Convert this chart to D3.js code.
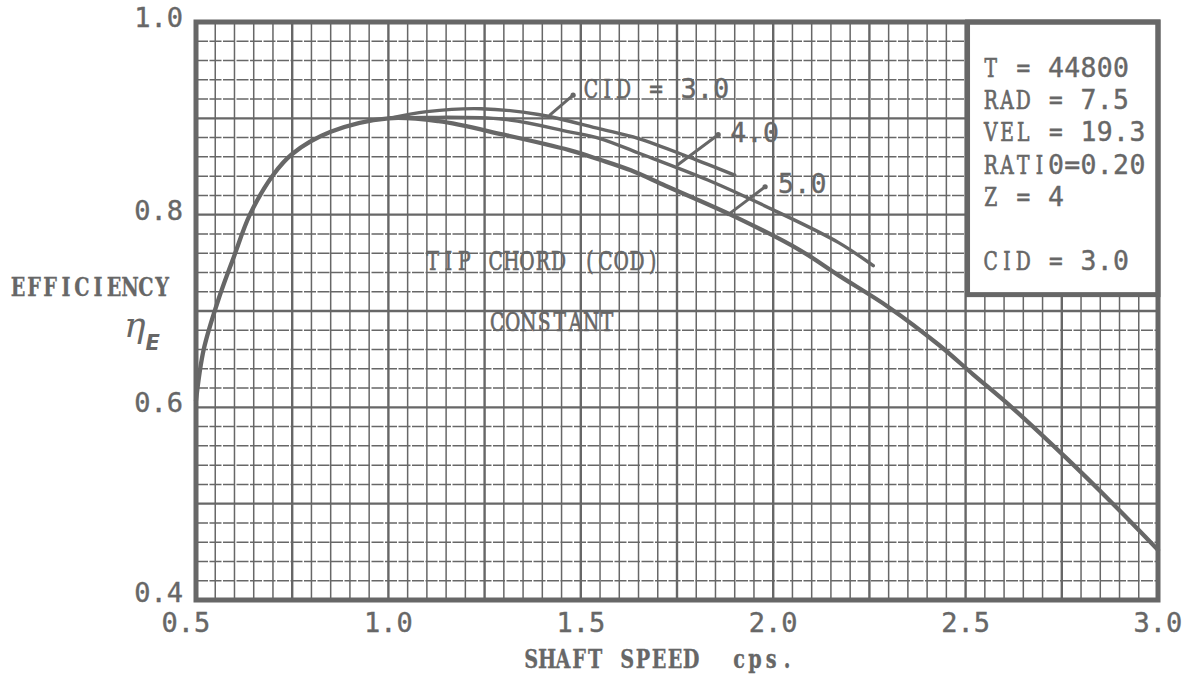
<!DOCTYPE html>
<html>
<head>
<meta charset="utf-8">
<script src="https://cdn.jsdelivr.net/npm/d3@7"></script>
<style>
  body { margin: 0; background: #fff; }
  svg { display: block; }
</style>
</head>
<body>
<script>
// efficiency vs shaft speed, tip chord (CID) constant
var ink = "#676767";

// curve data
var cid5Speed = [0.50, 0.52, 0.56, 0.60, 0.64, 0.70, 0.75, 0.85, 1.00, 1.13, 1.30, 1.47, 1.55, 1.63, 1.72, 1.90, 2.07, 2.17, 2.30, 2.43, 2.52, 2.62, 2.76, 2.88, 3.00];
var cid5Eff   = [0.607, 0.660, 0.714, 0.758, 0.800, 0.841, 0.863, 0.886, 0.900, 0.897, 0.883, 0.867, 0.857, 0.846, 0.830, 0.798, 0.763, 0.737, 0.704, 0.665, 0.634, 0.600, 0.548, 0.501, 0.452];

var cid4Speed = [1.00, 1.10, 1.30, 1.47, 1.55, 1.65, 1.83, 2.00, 2.17, 2.26];
var cid4Eff   = [0.900, 0.901, 0.899, 0.886, 0.879, 0.864, 0.836, 0.805, 0.771, 0.747];

var cid3Speed = [1.00, 1.10, 1.24, 1.39, 1.55, 1.65, 1.78, 1.90];
var cid3Eff   = [0.900, 0.907, 0.910, 0.904, 0.889, 0.879, 0.860, 0.841];

var xTicks = [0.5, 1.0, 1.5, 2.0, 2.5, 3.0];
var yTicks = [0.4, 0.6, 0.8, 1.0];

var curveKeys   = ["CID = ", "", ""];
var curveValues = ["3.0", "4.0", "5.0"];
var boxKeys   = ["T = ", "RAD = ", "VEL = ", "RATI", "Z = ", "", "CID = "];
var boxValues = ["44800", "7.5", "19.3", "0=0.20", "4", "", "3.0"];

// typewriter look: slab serif letters on a fixed pitch, gothic digits
var serif = "'DejaVu Serif', 'Liberation Serif', serif";
var gothic = "'DejaVu Sans Mono', monospace";

var svg = d3.select("body").append("svg")
    .attr("width", 1195)
    .attr("height", 676);

var x = d3.scaleLinear().domain([0.5, 3.0]).range([196, 1158]);
var y = d3.scaleLinear().domain([0.4, 1.0]).range([600, 22]);

// typed text: every char centred in its own cell of width `pitch`,
// glyphs narrowed by `squeeze` like a typewriter face
function typed(g, str, px, py, opts) {
  opts = opts || {};
  var p = opts.pitch || 16.1, sq = opts.squeeze || 0.72;
  var xs = str.split("").map(function(c, i) { return ((px + p * i + p / 2) / sq).toFixed(2); });
  return g.append("text")
      .attr("transform", "scale(" + sq + ",1)")
      .attr("x", xs.join(" ")).attr("y", py)
      .attr("text-anchor", "middle")
      .attr("font-family", opts.family || serif)
      .attr("font-size", opts.size || 26)
      .attr("font-weight", opts.weight || "normal")
      .attr("fill", ink)
      .attr("stroke", ink).attr("stroke-width", opts.stroke == null ? 0.7 : opts.stroke)
      .text(str.replace(/ /g, "\u00a0"));
}
function digits(g, str, px, py, p) {
  return typed(g, str, px, py, { family: gothic, size: 27, pitch: p || 16.3, squeeze: 0.98, stroke: 0.4 });
}

// ---- graph paper ----
var grid = svg.append("g").attr("stroke", ink).attr("fill", "none");

d3.range(0, 51).forEach(function(i) {
  var v = 0.5 + i * 0.05;
  grid.append("line")
      .attr("x1", x(v)).attr("x2", x(v))
      .attr("y1", y(0.4)).attr("y2", y(1.0))
      .attr("stroke-width", i % 5 == 0 ? 2.4 : 1.5);
});
d3.range(0, 31).forEach(function(i) {
  var v = 0.4 + i * 0.02;
  grid.append("line")
      .attr("x1", x(0.5)).attr("x2", x(3.0))
      .attr("y1", y(v)).attr("y2", y(v))
      .attr("stroke-width", i % 5 == 0 ? 2.4 : 1.5)
      .attr("stroke-dasharray", i % 5 == 0 ? null : "12,1.5");
});

// ---- curves ----
var line = d3.line()
    .x(function(d) { return x(d[0]); })
    .y(function(d) { return y(d[1]); })
    .curve(d3.curveCatmullRom.alpha(0.5));

var curves = [
  { sx: cid3Speed, ey: cid3Eff, w: 3.4 },
  { sx: cid4Speed, ey: cid4Eff, w: 3.4 },
  { sx: cid5Speed, ey: cid5Eff, w: 4.3 }
];
curves.forEach(function(c) {
  svg.append("path")
      .datum(d3.zip(c.sx, c.ey))
      .attr("d", line)
      .attr("fill", "none")
      .attr("stroke", ink)
      .attr("stroke-width", c.w)
      .attr("stroke-linecap", "round")
      .attr("stroke-linejoin", "round");
});

// leader lines to the curves (ends in data units)
var leaders = [
  { from: [1.480, 0.924], to: [1.420, 0.9035], tx: 1.505, ty: 0.921 },
  { from: [1.857, 0.883], to: [1.753, 0.852], tx: 1.888, ty: 0.875 },
  { from: [1.979, 0.829], to: [1.883, 0.800], tx: 2.012, ty: 0.823 }
];
var notes = svg.append("g");
leaders.forEach(function(l, i) {
  notes.append("line")
      .attr("x1", x(l.from[0])).attr("y1", y(l.from[1]))
      .attr("x2", x(l.to[0])).attr("y2", y(l.to[1]))
      .attr("stroke", ink).attr("stroke-width", 3)
      .attr("stroke-linecap", "round");
  notes.append("circle")
      .attr("cx", x(l.from[0])).attr("cy", y(l.from[1]))
      .attr("r", 2.6).attr("fill", ink);
  var k = curveKeys[i];
  if (k) typed(notes, k, x(l.tx), y(l.ty), { pitch: 16.3 });
  digits(notes, curveValues[i], x(l.tx) + k.length * 16.3, y(l.ty));
});

// ---- notes inside the plot ----
typed(notes, "TIP CHORD (COD)", x(1.095), y(0.743), { pitch: 15.7 });
typed(notes, "CONSTANT", x(1.262), y(0.679), { pitch: 15.7 });

// ---- parameter box ----
var boxLeft = x(2.505), boxBottom = y(0.717);
svg.append("rect")
    .attr("x", boxLeft).attr("y", y(1.0))
    .attr("width", x(3.0) - boxLeft)
    .attr("height", boxBottom - y(1.0))
    .attr("fill", "#fff")
    .attr("stroke", ink).attr("stroke-width", 5);

var boxText = svg.append("g");
boxKeys.forEach(function(k, i) {
  if (k == "") return;
  var ty = 77 + i * 32.2;
  typed(boxText, k, boxLeft + 15, ty, { pitch: 16.3 });
  digits(boxText, boxValues[i], boxLeft + 15 + k.length * 16.3, ty);
});

// ---- frame ----
svg.append("rect")
    .attr("x", x(0.5)).attr("y", y(1.0))
    .attr("width", x(3.0) - x(0.5))
    .attr("height", y(0.4) - y(1.0))
    .attr("fill", "none")
    .attr("stroke", ink).attr("stroke-width", 5);

// ---- tick labels ----
svg.append("g").selectAll("text")
    .data(yTicks)
  .enter().append("text")
    .attr("x", 183)
    .attr("y", function(d) { return y(d) + (d == 0.4 ? 2 : 5); })
    .attr("text-anchor", "end")
    .attr("font-family", gothic).attr("font-size", 27)
    .attr("fill", ink).attr("stroke", ink).attr("stroke-width", 0.4)
    .text(function(d) { return d.toFixed(1); });

svg.append("g").selectAll("text")
    .data(xTicks)
  .enter().append("text")
    .attr("x", function(d, i) { return x(d) - (i == 0 ? 10 : 0); })
    .attr("y", 632)
    .attr("text-anchor", "middle")
    .attr("font-family", gothic).attr("font-size", 27)
    .attr("fill", ink).attr("stroke", ink).attr("stroke-width", 0.4)
    .text(function(d) { return d.toFixed(1); });

// ---- axis titles ----
typed(svg, "SHAFT SPEED  cps.", x(1.35), 668, { weight: "bold", stroke: 0.3, pitch: 16, squeeze: 0.74 });
typed(svg, "EFFICIENCY", 10, 296, { weight: "bold", stroke: 0.3, pitch: 16, squeeze: 0.74 });

var eta = svg.append("text")
    .attr("x", 124).attr("y", 337)
    .attr("fill", ink);
eta.append("tspan")
    .attr("font-family", "'DejaVu Serif', serif")
    .attr("font-style", "italic")
    .attr("font-size", 36)
    .text("η");
eta.append("tspan")
    .attr("font-family", "'DejaVu Sans', sans-serif")
    .attr("font-weight", "bold")
    .attr("font-style", "italic")
    .attr("font-size", 21)
    .attr("dy", 13)
    .text("E");
</script>
</body>
</html>
